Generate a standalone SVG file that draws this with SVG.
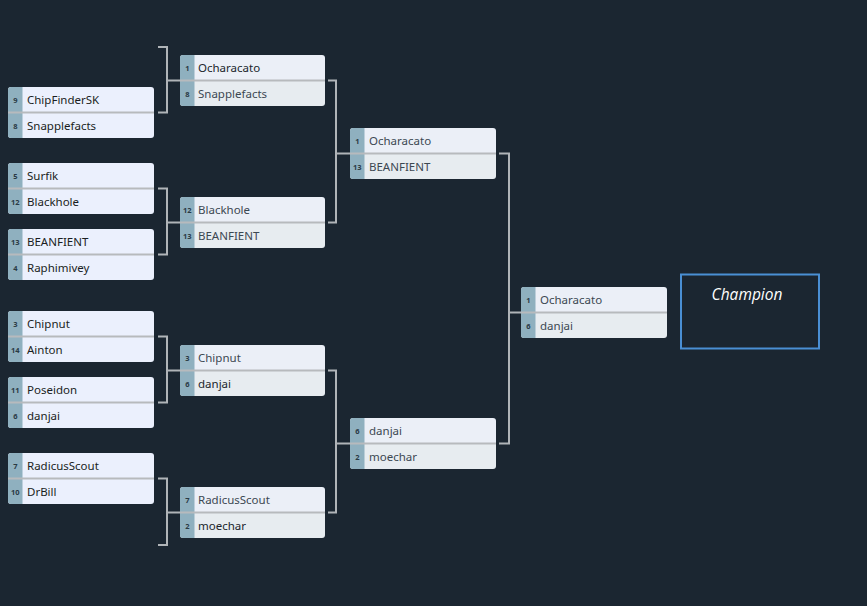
<svg xmlns="http://www.w3.org/2000/svg" width="867" height="606" viewBox="0 0 867 606">
<style>
.bg{fill:#1b2631}
.r1 .card{fill:#ebf0fd}
.rx .top{fill:#ebeff7}
.rx .bot{fill:#e7ecf0}
.card{fill:#e9eef2}
.seed{fill:#8fb0bf}
.div{stroke:#b7babd;stroke-width:2}
.name{font-family:"Noto Sans","Open Sans",sans-serif;font-size:11.5px;fill:#1a1e22}
.rx .name{fill:#3c4852}
.rx .name.w{fill:#20262c}
.sn{font-family:"Noto Sans","Open Sans",sans-serif;font-size:7.5px;font-weight:bold;fill:#2a3a44;text-anchor:middle}
.conn path{fill:none;stroke:#b0b4b8;stroke-width:2}
.champ{fill:none;stroke:#4a8fd4;stroke-width:2}
.ct{font-family:"Open Sans","Noto Sans",sans-serif;font-size:15.5px;font-style:italic;fill:#ffffff;text-anchor:middle}
</style>
<defs>
<clipPath id="c"><rect x="0" y="0" width="146" height="51" rx="3"/></clipPath>
<clipPath id="c2"><rect x="0" y="0" width="145" height="51" rx="3"/></clipPath>
</defs>
<rect class="bg" width="867" height="606"/>

<g id="connectors" class="conn">
<path d="M158,47 H167 V112.5 H158 M167,80.5 H180"/>
<path d="M158,188.5 H167 V254.5 H158 M167,222.5 H180"/>
<path d="M158,336.5 H167 V402.5 H158 M167,370.5 H180"/>
<path d="M158,478.5 H167 V545 H158 M167,512.5 H180"/>
<path d="M328,80.5 H336 V222.5 H328 M336,153.5 H350"/>
<path d="M328,370.5 H336 V512.5 H328 M336,443.5 H350"/>
<path d="M499,153.5 H509 V443.5 H499 M509,312.5 H521"/>
</g>

<g id="r1m1" class="r1" transform="translate(8,87)">
<rect class="card" width="146" height="51" rx="3"/>
<g clip-path="url(#c)"><rect class="seed" width="14.5" height="51"/></g>
<line class="div" x1="0" y1="25.5" x2="146" y2="25.5"/>
<text class="sn" x="7.3" y="16">9</text><text class="name" x="19" y="17">ChipFinderSK</text>
<text class="sn" x="7.3" y="42">8</text><text class="name" x="19" y="43">Snapplefacts</text>
</g>
<g id="r1m2" class="r1" transform="translate(8,163)">
<rect class="card" width="146" height="51" rx="3"/>
<g clip-path="url(#c)"><rect class="seed" width="14.5" height="51"/></g>
<line class="div" x1="0" y1="25.5" x2="146" y2="25.5"/>
<text class="sn" x="7.3" y="16">5</text><text class="name" x="19" y="17">Surfik</text>
<text class="sn" x="7.3" y="42">12</text><text class="name" x="19" y="43">Blackhole</text>
</g>
<g id="r1m3" class="r1" transform="translate(8,229)">
<rect class="card" width="146" height="51" rx="3"/>
<g clip-path="url(#c)"><rect class="seed" width="14.5" height="51"/></g>
<line class="div" x1="0" y1="25.5" x2="146" y2="25.5"/>
<text class="sn" x="7.3" y="16">13</text><text class="name" x="19" y="17">BEANFIENT</text>
<text class="sn" x="7.3" y="42">4</text><text class="name" x="19" y="43">Raphimivey</text>
</g>
<g id="r1m4" class="r1" transform="translate(8,311)">
<rect class="card" width="146" height="51" rx="3"/>
<g clip-path="url(#c)"><rect class="seed" width="14.5" height="51"/></g>
<line class="div" x1="0" y1="25.5" x2="146" y2="25.5"/>
<text class="sn" x="7.3" y="16">3</text><text class="name" x="19" y="17">Chipnut</text>
<text class="sn" x="7.3" y="42">14</text><text class="name" x="19" y="43">Ainton</text>
</g>
<g id="r1m5" class="r1" transform="translate(8,377)">
<rect class="card" width="146" height="51" rx="3"/>
<g clip-path="url(#c)"><rect class="seed" width="14.5" height="51"/></g>
<line class="div" x1="0" y1="25.5" x2="146" y2="25.5"/>
<text class="sn" x="7.3" y="16">11</text><text class="name" x="19" y="17">Poseidon</text>
<text class="sn" x="7.3" y="42">6</text><text class="name" x="19" y="43">danjai</text>
</g>
<g id="r1m6" class="r1" transform="translate(8,453)">
<rect class="card" width="146" height="51" rx="3"/>
<g clip-path="url(#c)"><rect class="seed" width="14.5" height="51"/></g>
<line class="div" x1="0" y1="25.5" x2="146" y2="25.5"/>
<text class="sn" x="7.3" y="16">7</text><text class="name" x="19" y="17">RadicusScout</text>
<text class="sn" x="7.3" y="42">10</text><text class="name" x="19" y="43">DrBill</text>
</g>

<g id="r2m1" class="rx" transform="translate(180,55)">
<g clip-path="url(#c2)"><rect class="top" width="145" height="26"/><rect class="bot" y="26" width="145" height="25"/><rect class="seed" width="14.5" height="51"/></g>
<line class="div" x1="0" y1="25.5" x2="145" y2="25.5"/>
<text class="sn" x="7.3" y="16">1</text><text class="name w" x="18" y="17">Ocharacato</text>
<text class="sn" x="7.3" y="42">8</text><text class="name" x="18" y="43">Snapplefacts</text>
</g>
<g id="r2m2" class="rx" transform="translate(180,197)">
<g clip-path="url(#c2)"><rect class="top" width="145" height="26"/><rect class="bot" y="26" width="145" height="25"/><rect class="seed" width="14.5" height="51"/></g>
<line class="div" x1="0" y1="25.5" x2="145" y2="25.5"/>
<text class="sn" x="7.3" y="16">12</text><text class="name" x="18" y="17">Blackhole</text>
<text class="sn" x="7.3" y="42">13</text><text class="name" x="18" y="43">BEANFIENT</text>
</g>
<g id="r2m3" class="rx" transform="translate(180,345)">
<g clip-path="url(#c2)"><rect class="top" width="145" height="26"/><rect class="bot" y="26" width="145" height="25"/><rect class="seed" width="14.5" height="51"/></g>
<line class="div" x1="0" y1="25.5" x2="145" y2="25.5"/>
<text class="sn" x="7.3" y="16">3</text><text class="name" x="18" y="17">Chipnut</text>
<text class="sn" x="7.3" y="42">6</text><text class="name w" x="18" y="43">danjai</text>
</g>
<g id="r2m4" class="rx" transform="translate(180,487)">
<g clip-path="url(#c2)"><rect class="top" width="145" height="26"/><rect class="bot" y="26" width="145" height="25"/><rect class="seed" width="14.5" height="51"/></g>
<line class="div" x1="0" y1="25.5" x2="145" y2="25.5"/>
<text class="sn" x="7.3" y="16">7</text><text class="name" x="18" y="17">RadicusScout</text>
<text class="sn" x="7.3" y="42">2</text><text class="name w" x="18" y="43">moechar</text>
</g>

<g id="r3m1" class="rx" transform="translate(350,128)">
<g clip-path="url(#c)"><rect class="top" width="146" height="26"/><rect class="bot" y="26" width="146" height="25"/><rect class="seed" width="14.5" height="51"/></g>
<line class="div" x1="0" y1="25.5" x2="146" y2="25.5"/>
<text class="sn" x="7.3" y="16">1</text><text class="name" x="19" y="17">Ocharacato</text>
<text class="sn" x="7.3" y="42">13</text><text class="name" x="19" y="43">BEANFIENT</text>
</g>
<g id="r3m2" class="rx" transform="translate(350,418)">
<g clip-path="url(#c)"><rect class="top" width="146" height="26"/><rect class="bot" y="26" width="146" height="25"/><rect class="seed" width="14.5" height="51"/></g>
<line class="div" x1="0" y1="25.5" x2="146" y2="25.5"/>
<text class="sn" x="7.3" y="16">6</text><text class="name" x="19" y="17">danjai</text>
<text class="sn" x="7.3" y="42">2</text><text class="name" x="19" y="43">moechar</text>
</g>

<g id="final" class="rx" transform="translate(521,287)">
<g clip-path="url(#c)"><rect class="top" width="146" height="26"/><rect class="bot" y="26" width="146" height="25"/><rect class="seed" width="14.5" height="51"/></g>
<line class="div" x1="0" y1="25.5" x2="146" y2="25.5"/>
<text class="sn" x="7.3" y="16">1</text><text class="name" x="19" y="17">Ocharacato</text>
<text class="sn" x="7.3" y="42">6</text><text class="name" x="19" y="43">danjai</text>
</g>

<g id="champion">
<rect class="champ" x="681" y="274.5" width="138" height="74"/>
<text class="ct" x="747" y="300">Champion</text>
</g>
</svg>
